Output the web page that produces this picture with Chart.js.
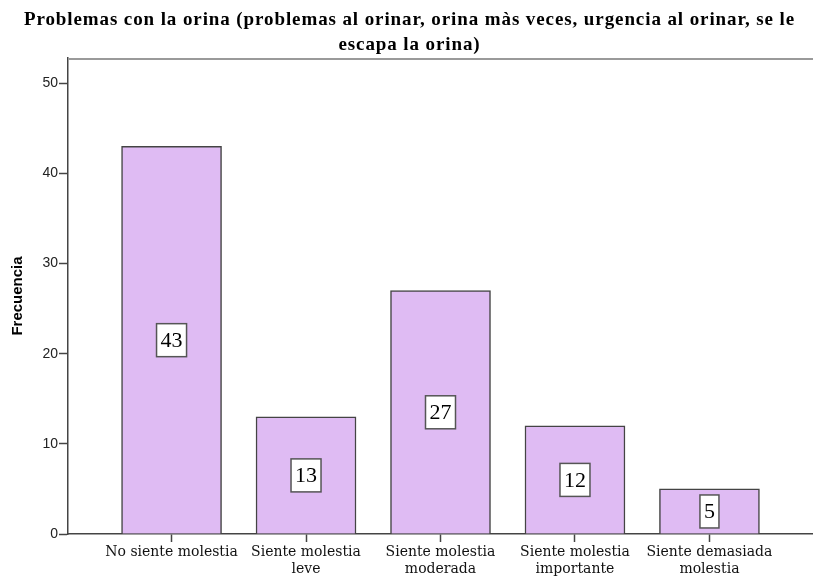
<!DOCTYPE html>
<html>
<head>
<meta charset="utf-8">
<script src="https://cdn.jsdelivr.net/npm/chart.js@4/dist/chart.umd.min.js"></script>
<style>
  html, body { margin: 0; padding: 0; background: #fff; }
  #wrap { width: 813px; height: 586px; }
</style>
</head>
<body>
<div id="wrap"><canvas id="chart"></canvas></div>
<script>
const categories = [
  ['No siente molestia'],
  ['Siente molestia', 'leve'],
  ['Siente molestia', 'moderada'],
  ['Siente molestia', 'importante'],
  ['Siente demasiada', 'molestia']
];
const frequencies = [43, 13, 27, 12, 5];
const yTicks = [0, 10, 20, 30, 40, 50];

const titleLines = [
  'Problemas con la orina (problemas al orinar, orina màs veces, urgencia al orinar, se le',
  'escapa la orina)'
];

// title (drawn by hand for the letter spacing), top frame line, value boxes
const extras = {
  id: 'extras',
  afterDraw(chart) {
    const ctx = chart.ctx;
    const area = chart.chartArea;
    ctx.save();

    ctx.fillStyle = '#000';
    ctx.font = 'bold 19px "Liberation Serif"';
    ctx.letterSpacing = '0.9px';
    ctx.textAlign = 'center';
    ctx.textBaseline = 'middle';
    titleLines.forEach((line, i) => {
      ctx.fillText(line, chart.width / 2 + 3, 20 + i * 25);
    });
    ctx.letterSpacing = '0px';

    ctx.strokeStyle = '#9a9a9a';
    ctx.lineWidth = 2;
    ctx.beginPath();
    ctx.moveTo(area.left, area.top + 1);
    ctx.lineTo(area.right, area.top + 1);
    ctx.stroke();

    const meta = chart.getDatasetMeta(0);
    const y = chart.scales.y;
    ctx.font = '22px "Liberation Serif"';
    meta.data.forEach((bar, i) => {
      const v = frequencies[i];
      const cy = y.getPixelForValue(v / 2);
      const txt = String(v);
      const w = ctx.measureText(txt).width + 8;
      const h = 33;
      ctx.fillStyle = '#fff';
      ctx.fillRect(bar.x - w / 2, cy - h / 2, w, h);
      ctx.strokeStyle = '#555';
      ctx.lineWidth = 1.5;
      ctx.strokeRect(bar.x - w / 2, cy - h / 2, w, h);
      ctx.fillStyle = '#000';
      ctx.fillText(txt, bar.x, cy + 1);
    });
    ctx.restore();
  }
};

new Chart(document.getElementById('chart'), {
  type: 'bar',
  data: {
    datasets: [{
      data: frequencies.map((v, i) => ({ x: i, y: v })),
      backgroundColor: '#dfbbf3',
      borderColor: '#444',
      borderWidth: 1.5,
      barThickness: 100
    }]
  },
  options: {
    responsive: true,
    maintainAspectRatio: false,
    animation: false,
    layout: { padding: { left: 0, right: 0, top: 58, bottom: 0 } },
    plugins: {
      legend: { display: false },
      tooltip: { enabled: false },
      title: { display: false }
    },
    scales: {
      x: {
        type: 'linear',
        offset: false,
        min: -0.77,
        max: 4.77,
        afterBuildTicks(scale) {
          scale.ticks = categories.map((c, i) => ({ value: i }));
        },
        afterFit(scale) { scale.height = 52; },
        grid: { offset: false, drawOnChartArea: false, drawTicks: true, tickLength: 8, color: '#444', tickWidth: 1.5 },
        border: { color: '#444', width: 1.5 },
        ticks: {
          autoSkip: false,
          maxRotation: 0,
          padding: 2,
          color: '#111',
          font: { family: '"DejaVu Serif"', size: 14, lineHeight: 1.2 },
          callback: (value) => categories[value] || ''
        }
      },
      y: {
        min: 0,
        max: 52.8,
        afterBuildTicks(scale) {
          scale.ticks = yTicks.map((v) => ({ value: v }));
        },
        afterFit(scale) { scale.width = 68; },
        grid: { drawOnChartArea: false, drawTicks: true, tickLength: 9, color: '#444', tickWidth: 1.5 },
        border: { color: '#444', width: 1.5 },
        ticks: {
          padding: 1,
          color: '#222',
          font: { family: '"Liberation Sans"', size: 14 }
        },
        title: {
          display: true,
          text: 'Frecuencia',
          color: '#000',
          font: { family: '"Liberation Sans"', size: 15, weight: 'bold' },
          padding: { top: 9, bottom: 0 }
        }
      }
    }
  },
  plugins: [extras]
});
</script>
</body>
</html>
